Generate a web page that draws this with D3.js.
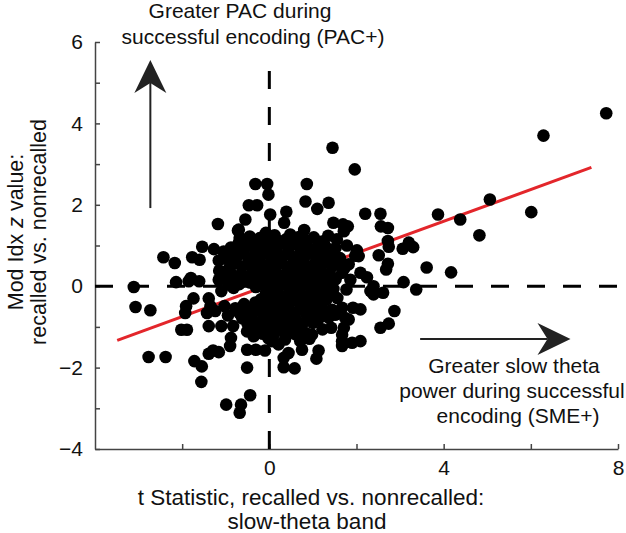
<!DOCTYPE html>
<html>
<head>
<meta charset="utf-8">
<script src="https://cdn.jsdelivr.net/npm/d3@7"></script>
<style>
  body { margin: 0; background: #fff; }
  text { font-family: "Liberation Sans", Arial, sans-serif; fill: #111; }
</style>
</head>
<body>
<script>
// t statistic (x) and Mod Idx z value (y), one entry per electrode
const tStat = [
  -3.11, -3.07, -2.73, -2.77, -2.38, -2.43, -2.17, -2.14, -1.80, -1.61,
  -1.85, -1.77, -1.60, -1.54, -1.27, -1.18, -0.72, -1.16, -0.89, -0.74,
  -1.16, -0.97, -1.74, -1.91, -1.93, -2.02, -1.89, -1.39, -1.35, -1.43,
  -1.24, -1.03, -1.39, -1.10, -0.83, -0.88, -0.90, -1.39, -1.29, -1.16,
  -1.72, -1.55, -1.56, -0.99, -0.65, -0.68, -0.44, -0.51, -0.51, -0.31,
  -0.10, -0.51, -0.36, -0.63, -0.47, -1.10, -0.86, 0.33, 0.58, 0.33,
  0.44, 0.75, 1.08, 1.13, 0.98, 0.71, 1.67, 1.67, 1.51, 0.21,
  0.06, 1.90, 2.09, 1.67, 1.82, 1.71, 2.55, 2.74, 2.87, 2.09,
  1.92, 1.67, 1.74, 2.39, 2.32, 2.61, 2.39, 1.77, 3.37, 3.08,
  3.61, 4.17, 2.09, 2.24, 1.86, 1.67, 1.82, 2.72, 2.68, 2.51,
  2.01, 2.05, 2.72, 2.74, 3.06, 3.20, 3.30, 2.56, 2.72, 2.20,
  2.55, 3.87, 4.38, 4.82, 5.06, 6.01, 6.29, 7.73, 1.45, 1.96,
  0.86, 0.83, 1.10, 1.36, -0.32, -0.05, -0.02, -0.47, -0.28, -0.55,
  0.02, 0.39, 0.34, -0.08, -0.70, 0.80, 1.47, 1.69, 1.80, 1.71,
  -0.63, 0.48, 1.02, 1.21, 0.86, 0.21, -0.09, 0.56, -0.68, 0.79,
  -0.70, 1.97,
  // dense core
  -0.45, -0.22, 0.12, 0.38, 0.68, 1.35,
  -0.88, -0.58, -0.34, -0.12, 0.16, 0.42, 0.72, 1.05, 1.28, 1.52, 1.78,
  -1.02, -0.74, -0.47, -0.21, 0.04, 0.31, 0.56, 0.82, 1.08, 1.36, 1.62,
  -0.92, -0.63, -0.36, -0.11, 0.14, 0.41, 0.66, 0.92, 1.17, 1.44, 1.72,
  -1.02, -0.77, -0.52, -0.26, -0.02, 0.24, 0.49, 0.76, 1.01, 1.27, 1.52,
  -0.82, -0.31, -0.06, 0.19, 0.46, 0.71, 0.96, 1.22, 1.47,
  -0.19, 0.06, 0.31, 0.56, 0.81, 1.06, 1.31, 1.56,
  -0.78, -0.53, -0.28, -0.03, 0.22, 0.47, 0.72, 0.97, 1.21, 1.44,
  -0.62, -0.38, -0.13, 0.12, 0.37, 0.62, 0.87, 1.12, 1.36,
  -0.27, -0.02, 0.22, 0.47, 0.72, 1.22, 1.42,
  -0.02, 0.36, 0.92,
  -0.95, -1.15, -1.05, 1.55,
  -0.70, -0.45, -0.20, 0.05, 0.30, 0.55, 0.85, 1.15,
  -0.90, -0.60, -0.33, -0.08, 0.18, 0.44, 0.70, 0.95, 1.22, 1.48,
  -0.78, -0.50, -0.24, 0.02, 0.28, 0.53, 0.79, 1.04, 1.30, 1.58,
  -0.88, -0.64, -0.38, -0.13, 0.12, 0.37, 0.62, 0.88, 1.14, 1.39,
  -0.94, -0.69, -0.44, -0.18, 0.07, 0.33, 0.58, 0.83, 1.09, 1.35,
  -0.08, 0.18, 0.43, 0.68, 0.94, 1.19, 1.43,
  -0.58, -0.32, -0.07, 0.18, 0.43, 0.68, 0.93, 1.18,
  -0.68, -0.42, -0.17, 0.08, 0.33, 0.58, 0.83, 1.08, 1.30,
  -0.50, -0.25, 0.00, 0.25, 0.50, 0.75, 1.00,
  -0.15, 0.10, 0.35, 0.60, 0.85
];
const zValue = [
  -0.02, -0.51, -0.59, -1.74, -1.74, 0.71, 0.57, 0.10, 0.20, 0.12,
  0.12, 0.71, 0.65, 0.97, 0.91, 1.53, 1.37, 0.63, 0.57, 0.98,
  0.16, 0.37, -0.30, -0.49, -0.66, -1.07, -1.07, -0.30, -0.49, -0.66,
  -0.61, -0.49, -0.98, -0.98, -0.98, -1.27, -1.47, -1.66, -1.58, -1.62,
  -1.84, -1.97, -2.35, -2.91, -2.91, -3.11, -2.68, -2.00, -1.56, -1.56,
  -1.58, -1.11, -1.23, -0.70, -0.53, -0.12, 0.00, -1.99, -2.02, -1.76,
  -1.64, -1.56, -1.78, -1.58, -1.19, -1.35, -1.35, -1.19, -0.70, -1.43,
  -1.35, -1.39, -1.35, -1.47, -0.82, -1.02, -1.02, -0.92, -0.61, -0.57,
  -0.53, -0.53, -0.78, -0.20, -0.12, -0.16, 0.00, -0.08, -0.08, 0.10,
  0.46, 0.34, 0.33, 0.22, 0.16, 0.33, 0.54, 0.55, 0.41, 0.76,
  0.88, 0.74, 1.11, 0.97, 0.92, 1.07, 0.96, 1.47, 1.43, 1.78,
  1.78, 1.76, 1.64, 1.25, 2.13, 1.82, 3.70, 4.25, 3.40, 2.87,
  2.51, 2.08, 1.90, 2.05, 2.51, 2.51, 2.25, 1.99, 1.99, 1.64,
  1.76, 1.83, 1.56, 1.31, 1.39, 1.38, 1.56, 1.52, 1.47, 1.35,
  1.11, 1.27, 1.20, 1.10, 1.11, 1.11, 1.06, 1.06, 1.19, 0.90,
  0.90, 0.75,
  // dense core
  1.22, 1.18, 1.25, 1.15, 1.21, 1.24,
  0.95, 0.98, 0.92, 0.99, 0.93, 0.97, 0.95, 0.92, 0.99, 0.94, 1.00,
  0.68, 0.72, 0.66, 0.74, 0.69, 0.73, 0.68, 0.74, 0.67, 0.72, 0.69,
  0.44, 0.47, 0.41, 0.48, 0.43, 0.46, 0.40, 0.47, 0.42, 0.48, 0.44,
  0.19, 0.23, 0.17, 0.22, 0.18, 0.24, 0.16, 0.21, 0.18, 0.23, 0.17,
  -0.04, -0.02, -0.07, -0.03, -0.08, -0.02, -0.06, -0.03, -0.07,
  -0.32, -0.29, -0.34, -0.27, -0.31, -0.28, -0.33, -0.29,
  -0.54, -0.58, -0.52, -0.57, -0.53, -0.59, -0.52, -0.56, -0.53, -0.58,
  -0.79, -0.83, -0.77, -0.82, -0.78, -0.84, -0.79, -0.82, -0.77,
  -1.04, -1.08, -1.02, -1.07, -1.03, -1.06, -1.02,
  -1.28, -1.31, -1.29,
  -0.72, 0.38, 0.85, 1.15,
  1.07, 1.04, 1.09, 1.05, 1.08, 1.03, 1.07, 1.05,
  0.82, 0.85, 0.80, 0.84, 0.81, 0.86, 0.79, 0.83, 0.82, 0.80,
  0.57, 0.55, 0.59, 0.56, 0.58, 0.54, 0.58, 0.55, 0.59, 0.56,
  0.32, 0.30, 0.34, 0.31, 0.33, 0.29, 0.34, 0.30, 0.33, 0.31,
  0.07, 0.05, 0.09, 0.06, 0.08, 0.04, 0.09, 0.06, 0.08, 0.05,
  -0.18, -0.16, -0.20, -0.15, -0.18, -0.16, -0.19,
  -0.44, -0.40, -0.43, -0.41, -0.45, -0.40, -0.43, -0.41,
  -0.67, -0.69, -0.65, -0.68, -0.66, -0.70, -0.65, -0.68, -0.66,
  -0.92, -0.94, -0.90, -0.93, -0.91, -0.95, -0.90,
  -1.17, -1.19, -1.15, -1.18, -1.16
];

// least-squares fit line end points
const fitX = [-3.49, 7.39];
const fitY = [-1.33, 2.92];

const xMajor = [0, 4, 8];
const xMinor = [-2, 2, 6];
const yMajor = [-4, -2, 0, 2, 4, 6];
const yMinor = [-3, -1, 1, 3, 5];

const width = 626, height = 533;

const x = d3.scaleLinear().domain([-4, 8]).range([95, 618]);
const y = d3.scaleLinear().domain([-4, 6]).range([449, 42]);

const svg = d3.select('body').append('svg')
  .attr('width', width)
  .attr('height', height);

const minus = d => d3.format('d')(d).replace('-', '\u2212');

// axes, ticks pointing inward
svg.append('g').attr('transform', `translate(0,${y(-4)})`)
  .call(d3.axisBottom(x).tickValues(xMajor).tickSize(-5).tickSizeOuter(0).tickPadding(11).tickFormat(minus));
svg.append('g').attr('transform', `translate(0,${y(-4)})`)
  .call(d3.axisBottom(x).tickValues(xMinor).tickSize(-5).tickSizeOuter(0).tickFormat(''))
  .select('.domain').remove();
svg.append('g').attr('transform', `translate(${x(-4)},0)`)
  .call(d3.axisLeft(y).tickValues(yMajor).tickSize(-5).tickSizeOuter(0).tickPadding(12).tickFormat(minus));
svg.append('g').attr('transform', `translate(${x(-4)},0)`)
  .call(d3.axisLeft(y).tickValues(yMinor).tickSize(-5).tickSizeOuter(0).tickFormat(''))
  .select('.domain').remove();

svg.selectAll('.domain, .tick line').attr('stroke', '#444').attr('stroke-width', 1.5);
svg.selectAll('.tick text').style('font-size', '21px').attr('fill', '#111');

// zero reference lines
svg.append('line')
  .attr('x1', x(-4)).attr('x2', width)
  .attr('y1', y(0)).attr('y2', y(0))
  .attr('stroke', '#000').attr('stroke-width', 3)
  .attr('stroke-dasharray', '18,18');
svg.append('line')
  .attr('x1', x(0)).attr('x2', x(0))
  .attr('y1', y(-4)).attr('y2', y(5.29))
  .attr('stroke', '#000').attr('stroke-width', 3)
  .attr('stroke-dasharray', '18,18');

// regression line
svg.append('line')
  .attr('x1', x(fitX[0])).attr('y1', y(fitY[0]))
  .attr('x2', x(fitX[1])).attr('y2', y(fitY[1]))
  .attr('stroke', '#e3262b').attr('stroke-width', 3);

// points
svg.append('g')
  .selectAll('circle')
  .data(d3.range(tStat.length))
  .enter().append('circle')
  .attr('cx', i => x(tStat[i]))
  .attr('cy', i => y(zValue[i]))
  .attr('r', 6.3)
  .attr('fill', '#000');

// arrows
function arrow(x1, y1, x2, y2) {
  const a = Math.atan2(y2 - y1, x2 - x1);
  const L = 33, W = 16, N = 23;
  const p = (l, w) => [x2 - l * Math.cos(a) - w * Math.sin(a), y2 - l * Math.sin(a) + w * Math.cos(a)];
  svg.append('line')
    .attr('x1', x1).attr('y1', y1)
    .attr('x2', p(N, 0)[0]).attr('y2', p(N, 0)[1])
    .attr('stroke', '#222').attr('stroke-width', 2);
  svg.append('path')
    .attr('d', 'M' + [[x2, y2], p(L, W), p(N, 0), p(L, -W)].join('L') + 'Z')
    .attr('fill', '#222');
}
arrow(x(-2.73), y(1.92), x(-2.73), y(5.56));
arrow(x(3.46), y(-1.30), x(6.91), y(-1.30));

// annotations
const fs = '21px';
svg.append('text').attr('x', 240).attr('y', 18).attr('text-anchor', 'middle').style('font-size', fs).text('Greater PAC during');
svg.append('text').attr('x', 253).attr('y', 44).attr('text-anchor', 'middle').style('font-size', fs).text('successful encoding (PAC+)');

svg.append('text').attr('x', 514).attr('y', 373).attr('text-anchor', 'middle').style('font-size', fs).text('Greater slow theta');
svg.append('text').attr('x', 512).attr('y', 398).attr('text-anchor', 'middle').style('font-size', fs).text('power during successful');
svg.append('text').attr('x', 518).attr('y', 423).attr('text-anchor', 'middle').style('font-size', fs).text('encoding (SME+)');

// axis titles
const ft = '22.5px';
svg.append('text').attr('x', 311).attr('y', 505).attr('text-anchor', 'middle').style('font-size', ft).text('t Statistic, recalled vs. nonrecalled:');
svg.append('text').attr('x', 307).attr('y', 529).attr('text-anchor', 'middle').style('font-size', ft).text('slow-theta band');

const yl = svg.append('text').attr('transform', 'translate(23,232) rotate(-90)').attr('text-anchor', 'middle').style('font-size', '21.5px');
yl.append('tspan').text('Mod Idx ');
yl.append('tspan').style('font-style', 'italic').text('z');
yl.append('tspan').text(' value:');
svg.append('text').attr('transform', 'translate(46,232) rotate(-90)').attr('text-anchor', 'middle').style('font-size', '21.5px').text('recalled vs. nonrecalled');
</script>
</body>
</html>
